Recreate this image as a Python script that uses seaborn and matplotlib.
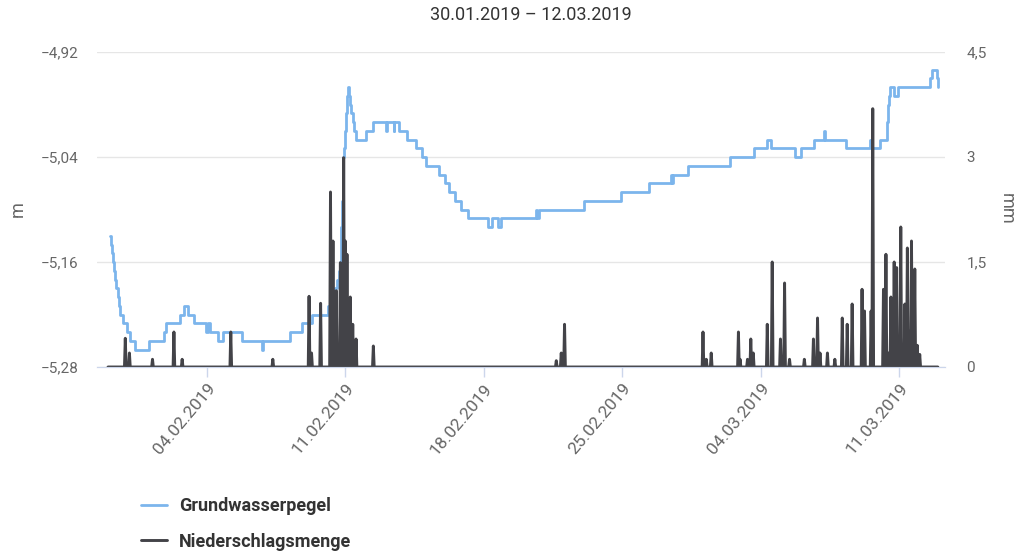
import numpy as np
import pandas as pd
import matplotlib
matplotlib.use('Agg')
import matplotlib.pyplot as plt
import matplotlib.dates as mdates
import seaborn as sns

# Grundwasserpegel: Zeitpunkt der Änderung (Tage ab 30.01.2019 00:00) und neuer Pegel [m]
gw_day = [0.12, 0.17, 0.21, 0.25, 0.29, 0.34, 0.42, 0.50, 0.55, 0.63,
          0.74, 0.96, 1.13, 1.35, 2.06, 2.81, 2.93, 3.65, 3.82, 4.07,
          4.33, 4.96, 5.05, 5.16, 5.55, 5.79, 6.76, 7.78, 7.83, 9.20,
          9.79, 10.29, 11.13, 11.38, 11.50, 11.59, 11.67, 11.72, 11.76, 11.80,
          11.84, 11.89, 11.93, 11.97, 12.01, 12.05, 12.10, 12.14, 12.18, 12.22,
          12.30, 12.38, 12.45, 12.56, 13.02, 13.40, 14.05, 14.10, 14.44, 14.48,
          14.70, 15.12, 15.57, 15.88, 16.08, 16.72, 17.05, 17.26, 17.56, 17.86,
          18.20, 19.22, 19.42, 19.72, 19.85, 21.65, 21.70, 21.78, 24.08, 25.93,
          27.35, 28.45, 28.50, 28.55, 29.31, 31.47, 32.65, 33.30, 33.50, 34.72,
          35.02, 35.69, 36.22, 36.27, 37.29, 38.53, 38.65, 39.04, 39.41, 39.45,
          39.50, 39.54, 39.74, 39.96, 41.56, 41.65, 41.90, 41.98]
gw_level = [-5.13, -5.14, -5.15, -5.16, -5.17, -5.18, -5.19, -5.20, -5.21, -5.22,
            -5.23, -5.24, -5.25, -5.26, -5.25, -5.24, -5.23, -5.22, -5.21, -5.22,
            -5.23, -5.24, -5.23, -5.24, -5.25, -5.24, -5.25, -5.26, -5.25, -5.24,
            -5.23, -5.22, -5.21, -5.20, -5.19, -5.18, -5.17, -5.16, -5.14, -5.12,
            -5.09, -5.04, -5.03, -5.01, -5.00, -4.99, -4.97, -4.96, -4.97, -4.98,
            -4.99, -5.00, -5.01, -5.02, -5.01, -5.00, -5.01, -5.00, -5.01, -5.00,
            -5.01, -5.02, -5.03, -5.04, -5.05, -5.06, -5.07, -5.08, -5.09, -5.10,
            -5.11, -5.12, -5.11, -5.12, -5.11, -5.10, -5.11, -5.10, -5.09, -5.08,
            -5.07, -5.06, -5.07, -5.06, -5.05, -5.04, -5.03, -5.02, -5.03, -5.04,
            -5.03, -5.02, -5.01, -5.02, -5.03, -5.02, -5.03, -5.02, -5.00, -4.98,
            -4.97, -4.96, -4.97, -4.96, -4.95, -4.94, -4.95, -4.96]

# Niederschlagsmenge: Stunden mit Niederschlag (Tage ab 30.01.2019 00:00) und Menge [mm]
rain_day = [0.88, 1.08, 2.27, 3.32, 3.77, 6.21, 8.33, 10.17, 10.29, 10.73,
            11.25, 11.39, 11.55, 11.77, 11.91, 12.01, 12.07, 12.23, 12.39, 12.56,
            13.40, 22.65, 22.90, 23.10, 30.08, 30.24, 30.49, 31.86, 31.97, 32.35,
            32.50, 32.63, 33.32, 33.57, 33.99, 34.20, 34.47, 35.21, 35.67, 35.88,
            36.01, 36.37, 36.77, 37.12, 37.39, 37.64, 38.11, 38.25, 38.57, 38.67,
            39.20, 39.32, 39.45, 39.57, 39.74, 39.87, 40.08, 40.31, 40.41, 40.52,
            40.64, 40.80, 40.92, 41.05]
rain_mm = [0.41, 0.20, 0.11, 0.50, 0.11, 0.50, 0.11, 1.01, 0.20, 0.91,
           2.50, 1.80, 1.09, 1.49, 2.99, 1.80, 1.61, 1.00, 0.61, 0.40,
           0.30, 0.09, 0.20, 0.61, 0.50, 0.11, 0.20, 0.50, 0.11, 0.11,
           0.40, 0.20, 0.61, 1.50, 0.40, 1.20, 0.11, 0.11, 0.40, 0.70,
           0.20, 0.20, 0.11, 0.70, 0.61, 0.90, 1.11, 0.80, 0.80, 3.69,
           1.11, 1.61, 0.20, 1.00, 1.50, 1.42, 2.00, 0.90, 1.70, 0.51,
           1.80, 1.40, 0.31, 0.18]

left_ticks = [-5.28, -5.16, -5.04, -4.92]
right_ticks = [0, 1.5, 3, 4.5]
date_ticks = ["2019-02-04", "2019-02-11", "2019-02-18", "2019-02-25", "2019-03-04", "2019-03-11"]

START = pd.Timestamp("2019-01-30")
BLUE = "#7cb5ec"
DARK = "#434348"

gw = pd.DataFrame({"zeit": START + pd.to_timedelta(gw_day, unit="D"), "pegel": gw_level})

# stündliche Reihe, Nullwerte außerhalb der Niederschlagsstunden
hours = pd.date_range(START, periods=42 * 24, freq="h")
rain = pd.DataFrame({"zeit": hours, "mm": 0.0})
rain.loc[np.round(np.array(rain_day) * 24).astype(int), "mm"] = rain_mm

sns.set_style("white")
plt.rcParams["font.family"] = ["Roboto", "DejaVu Sans"]

fig = plt.figure(figsize=(10.18, 5.53), dpi=100)
ax = fig.add_axes([97 / 1018, 1 - 367 / 553, 848 / 1018, 315 / 553])
ax2 = ax.twinx()

sns.lineplot(data=gw, x="zeit", y="pegel", ax=ax, color=BLUE, linewidth=2,
             drawstyle="steps-post", label="Grundwasserpegel", legend=False)
sns.lineplot(data=rain, x="zeit", y="mm", ax=ax2, color=DARK, linewidth=2.1,
             label="Niederschlagsmenge", legend=False)

ax.set_ylim(-5.28, -4.92)
ax2.set_ylim(0, 4.5)
ax.set_yticks(left_ticks)
ax.set_yticklabels([f"{v:.2f}".replace(".", ",").replace("-", "\u2212") for v in left_ticks])
ax2.set_yticks(right_ticks)
ax2.set_yticklabels([f"{v:g}".replace(".", ",") for v in right_ticks])
ax.set_xlim(pd.Timestamp("2019-01-29 10:40"), pd.Timestamp("2019-03-13 07:40"))
ax.set_xticks(pd.to_datetime(date_ticks))
ax.xaxis.set_major_formatter(mdates.DateFormatter("%d.%m.%Y"))

ax.grid(axis="y", color="#e6e6e6", linewidth=1)
ax.set_axisbelow(True)
for a in (ax, ax2):
    for s in ("left", "right", "top"):
        a.spines[s].set_visible(False)
    a.spines["bottom"].set_color("#ccd6eb")
    a.set_xlabel("")
    a.set_ylabel("")
ax.tick_params(axis="x", direction="out", length=7, width=1, color="#ccd6eb",
               labelcolor="#666666", labelsize=12.5, pad=3, bottom=True)
plt.setp(ax.get_xticklabels(), rotation=50, ha="right", rotation_mode="anchor")
ax.tick_params(axis="y", length=0, labelcolor="#666666", labelsize=11, pad=13.5)
ax2.tick_params(axis="y", length=0, labelcolor="#666666", labelsize=11, pad=15.5)

fig.text(18 / 1018, 1 - 209 / 553, "m", rotation=90, ha="center", va="center",
         color="#666666", fontsize=13)
fig.text(1007 / 1018, 1 - 209 / 553, "mm", rotation=270, ha="center", va="center",
         color="#666666", fontsize=13)
fig.text(531 / 1018, 1 - 15 / 553, "30.01.2019 \u2013 12.03.2019", ha="center", va="center",
         color="#333333", fontsize=13)

handles = ax.get_lines()[:1] + ax2.get_lines()[:1]
fig.legend(handles, ["Grundwasserpegel", "Niederschlagsmenge"], loc="center left",
           bbox_to_anchor=(125 / 1018, 1 - 524 / 553), frameon=False, handlelength=1.4,
           handletextpad=0.7, labelspacing=0.95, prop={"weight": "bold", "size": 13},
           labelcolor="#333333")

plt.savefig("out.png", dpi=100)
plt.close()
